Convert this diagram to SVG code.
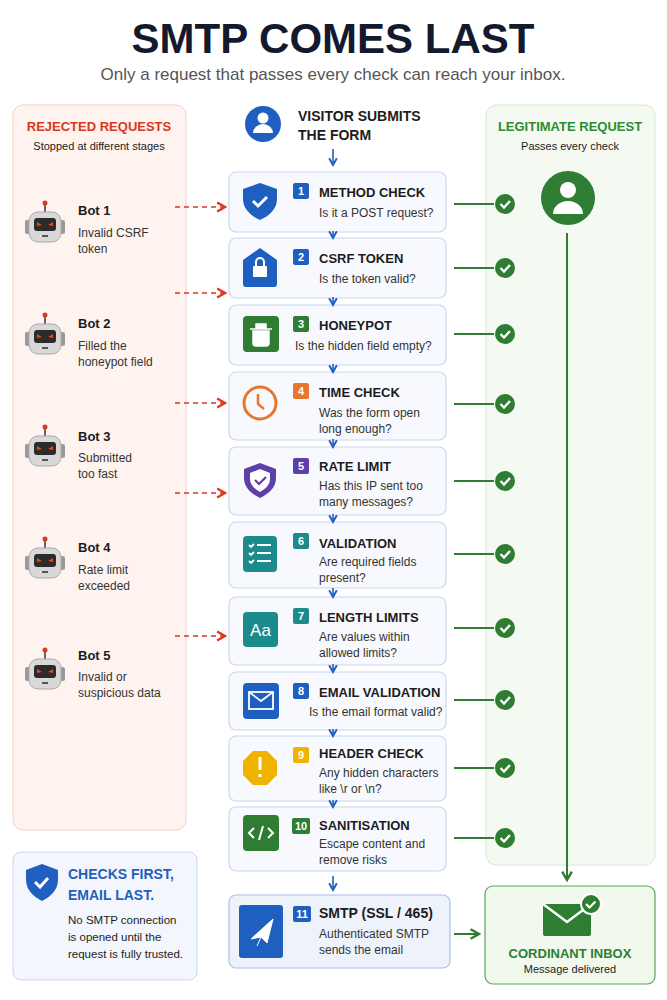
<svg xmlns="http://www.w3.org/2000/svg" width="667" height="1000" viewBox="0 0 667 1000">
<defs>
<style>
text{font-family:"Liberation Sans",Arial,sans-serif;fill:#1c1c1c}
.t{font-size:13px;font-weight:bold}
.s{font-size:12px;fill:#333}
.bl{font-size:12px;fill:#333}
.bt{font-size:13px;font-weight:bold}
.box{fill:#f7f9fe;stroke:#c7d7f0;stroke-width:1.2}
.bn{font-size:11px;font-weight:bold;fill:#fff;text-anchor:middle}
.red{stroke:#d9381e;stroke-width:1.6;stroke-dasharray:5 4;fill:none}
.grn{stroke:#2e7d32;stroke-width:2;fill:none}
.blu{stroke:#1f5fbf;stroke-width:1.6;fill:none}
</style>
<marker id="ar" viewBox="0 0 10 10" refX="8" refY="5" markerWidth="7" markerHeight="7" orient="auto"><path d="M1,1 L8,5 L1,9" fill="none" stroke="#d9381e" stroke-width="2"/></marker>
<marker id="ab" viewBox="0 0 10 10" refX="8" refY="5" markerWidth="6" markerHeight="6" orient="auto"><path d="M1,1 L8,5 L1,9" fill="none" stroke="#1f5fbf" stroke-width="2"/></marker>
<marker id="ag" viewBox="0 0 10 10" refX="8" refY="5" markerWidth="6" markerHeight="6" orient="auto"><path d="M1,1 L8,5 L1,9" fill="none" stroke="#2e7d32" stroke-width="2"/></marker>
<g id="robot">
<line x1="0" y1="-22" x2="0" y2="-14" stroke="#666" stroke-width="2"/><circle cx="0" cy="-23" r="2.5" fill="#d9381e"/>
<rect x="-20" y="-6" width="5" height="14" rx="2" fill="#999"/><rect x="15" y="-6" width="5" height="14" rx="2" fill="#999"/>
<rect x="-16" y="-14" width="32" height="30" rx="9" fill="#d8d8d8" stroke="#aaa"/>
<rect x="-11" y="-8" width="22" height="13" rx="3" fill="#2b2b2b"/>
<path d="M-8,-4 L-3,-1 L-8,0Z M8,-4 L3,-1 L8,0Z" fill="#e8452a"/>
<rect x="-3" y="9" width="6" height="2" fill="#555"/>
</g>
<g id="chk"><circle r="10" fill="#2e7d32"/><path d="M-4.5,0 L-1,3.5 L5,-3" stroke="#fff" stroke-width="2.4" fill="none"/></g>
</defs>
<rect width="667" height="1000" fill="#fff"/>
<text x="333" y="53" text-anchor="middle" style="font-size:42px;font-weight:bold;fill:#141a2e">SMTP COMES LAST</text>
<text x="333" y="80" text-anchor="middle" style="font-size:17px;fill:#555">Only a request that passes every check can reach your inbox.</text>

<g id="rejected">
<rect x="13" y="105" width="173" height="725" rx="10" fill="#fff3f0" stroke="#f6cfc5"/>
<text x="99" y="131" text-anchor="middle" style="font-size:13px;font-weight:bold;fill:#d9381e">REJECTED REQUESTS</text>
<text x="99" y="150" text-anchor="middle" style="font-size:11px">Stopped at different stages</text>
</g>
<g id="bot1"><use href="#robot" x="45" y="226"/><text x="78" y="215" class="bt">Bot 1</text><text x="78" y="237" class="bl">Invalid CSRF</text><text x="78" y="253" class="bl">token</text></g>
<g id="bot2"><use href="#robot" x="45" y="338"/><text x="78" y="328" class="bt">Bot 2</text><text x="78" y="350" class="bl">Filled the</text><text x="78" y="366" class="bl">honeypot field</text></g>
<g id="bot3"><use href="#robot" x="45" y="450"/><text x="78" y="441" class="bt">Bot 3</text><text x="78" y="462" class="bl">Submitted</text><text x="78" y="478" class="bl">too fast</text></g>
<g id="bot4"><use href="#robot" x="45" y="562"/><text x="78" y="552" class="bt">Bot 4</text><text x="78" y="574" class="bl">Rate limit</text><text x="78" y="590" class="bl">exceeded</text></g>
<g id="bot5"><use href="#robot" x="45" y="673"/><text x="78" y="660" class="bt">Bot 5</text><text x="78" y="681" class="bl">Invalid or</text><text x="78" y="697" class="bl">suspicious data</text></g>

<g id="legit">
<rect x="486" y="105" width="169" height="760" rx="10" fill="#f4f9f2" stroke="#d7e8d0"/>
<text x="570" y="131" text-anchor="middle" style="font-size:13px;font-weight:bold;fill:#2e8b2e">LEGITIMATE REQUEST</text>
<text x="570" y="150" text-anchor="middle" style="font-size:11px">Passes every check</text>
<circle cx="568" cy="198" r="27" fill="#2e7d32"/>
<circle cx="568" cy="190" r="8" fill="#fff"/><path d="M553,214 a15,13 0 0 1 30,0Z" fill="#fff"/>
</g>

<g id="visitor">
<circle cx="263" cy="124" r="18" fill="#1f5fbf"/>
<circle cx="263" cy="118" r="5.5" fill="#fff"/><path d="M253,133 a10,9 0 0 1 20,0Z" fill="#fff"/>
<text x="298" y="121" style="font-size:14px;font-weight:bold">VISITOR SUBMITS</text>
<text x="298" y="140" style="font-size:14px;font-weight:bold">THE FORM</text>
</g>

<g id="n1"><rect class="box" x="229" y="172" width="217" height="60" rx="7"/>
<path d="M260,183 l17,6 v10 c0,10 -8,17 -17,21 c-9,-4 -17,-11 -17,-21 v-10z" fill="#1f5fbf"/><path d="M253,201 l5,5 l9,-9" stroke="#fff" stroke-width="3" fill="none"/>
<rect x="293" y="183" width="16" height="16" rx="2" fill="#1f5fbf"/><text x="301" y="195" class="bn">1</text>
<text x="319" y="197" class="t">METHOD CHECK</text><text x="319" y="217" class="s">Is it a POST request?</text></g>
<g id="n2"><rect class="box" x="229" y="238" width="217" height="60" rx="7"/>
<path d="M243,260 l17,-12 l17,12 v24 q0,3 -3,3 h-28 q-3,0 -3,-3z" fill="#1f5fbf"/><rect x="253" y="266" width="14" height="11" rx="1" fill="#fff"/><path d="M256,266 v-4 a4,4 0 0 1 8,0 v4" stroke="#fff" stroke-width="2" fill="none"/>
<rect x="293" y="249" width="16" height="16" rx="2" fill="#1f5fbf"/><text x="301" y="261" class="bn">2</text>
<text x="319" y="263" class="t">CSRF TOKEN</text><text x="319" y="283" class="s">Is the token valid?</text></g>
<g id="n3"><rect class="box" x="229" y="305" width="217" height="60" rx="7"/>
<rect x="243" y="316" width="36" height="36" rx="4" fill="#2e7d32"/><path d="M250,329 h22 M253,331 h16 v12 q0,3 -3,3 h-10 q-3,0 -3,-3z M256,324 h10 v4 h-10z" fill="#fff" stroke="#fff" stroke-width="1.5"/>
<rect x="293" y="316" width="16" height="16" rx="2" fill="#2e7d32"/><text x="301" y="328" class="bn">3</text>
<text x="319" y="330" class="t">HONEYPOT</text><text x="295" y="350" class="s">Is the hidden field empty?</text></g>
<g id="n4"><rect class="box" x="229" y="372" width="217" height="68" rx="7"/>
<circle cx="260" cy="403" r="16" fill="none" stroke="#e8772e" stroke-width="3"/><path d="M258,394 v10 l6,5" stroke="#e8772e" stroke-width="2.5" fill="none"/>
<rect x="293" y="383" width="16" height="16" rx="2" fill="#e8772e"/><text x="301" y="395" class="bn">4</text>
<text x="319" y="397" class="t">TIME CHECK</text><text x="319" y="417" class="s">Was the form open</text><text x="319" y="433" class="s">long enough?</text></g>
<g id="n5"><rect class="box" x="229" y="447" width="217" height="68" rx="7"/>
<path d="M260,463 l16,6 v9 c0,10 -8,16 -16,20 c-8,-4 -16,-10 -16,-20 v-9z" fill="#5e3fa8"/><path d="M260,469 l10,4 v6 c0,6 -5,10 -10,13 c-5,-3 -10,-7 -10,-13 v-6z" fill="#fff"/><path d="M255,480 l4,4 l7,-7" stroke="#5e3fa8" stroke-width="2.2" fill="none"/>
<rect x="293" y="458" width="16" height="16" rx="2" fill="#5e3fa8"/><text x="301" y="470" class="bn">5</text>
<text x="319" y="471" class="t">RATE LIMIT</text><text x="319" y="490" class="s">Has this IP sent too</text><text x="319" y="506" class="s">many messages?</text></g>
<g id="n6"><rect class="box" x="229" y="522" width="217" height="66" rx="7"/>
<rect x="243" y="536" width="34" height="36" rx="4" fill="#1a8a8a"/><path d="M249,545 l2,2 l3,-3 M257,545 h14 M249,553 l2,2 l3,-3 M257,553 h14 M249,561 l2,2 l3,-3 M257,561 h14" stroke="#fff" stroke-width="1.8" fill="none"/>
<rect x="293" y="533" width="16" height="16" rx="2" fill="#1a8a8a"/><text x="301" y="545" class="bn">6</text>
<text x="319" y="548" class="t">VALIDATION</text><text x="319" y="566" class="s">Are required fields</text><text x="319" y="582" class="s">present?</text></g>
<g id="n7"><rect class="box" x="229" y="597" width="217" height="68" rx="7"/>
<rect x="243" y="612" width="35" height="35" rx="4" fill="#1a8a8a"/><text x="260.5" y="636" text-anchor="middle" style="font-size:17px;fill:#fff">Aa</text>
<rect x="293" y="608" width="16" height="16" rx="2" fill="#1a8a8a"/><text x="301" y="620" class="bn">7</text>
<text x="319" y="622" class="t">LENGTH LIMITS</text><text x="319" y="641" class="s">Are values within</text><text x="319" y="657" class="s">allowed limits?</text></g>
<g id="n8"><rect class="box" x="229" y="672" width="217" height="58" rx="7"/>
<rect x="243" y="683" width="36" height="36" rx="4" fill="#1f5fbf"/><rect x="249" y="692" width="24" height="17" fill="none" stroke="#fff" stroke-width="1.8"/><path d="M249,692 l12,9 l12,-9" stroke="#fff" stroke-width="1.8" fill="none"/>
<rect x="293" y="683" width="16" height="16" rx="2" fill="#1f5fbf"/><text x="301" y="695" class="bn">8</text>
<text x="319" y="697" class="t">EMAIL VALIDATION</text><text x="309" y="716" class="s">Is the email format valid?</text></g>
<g id="n9"><rect class="box" x="229" y="736" width="217" height="65" rx="7"/>
<path d="M253,751 h14 l10,10 v14 l-10,10 h-14 l-10,-10 v-14z" fill="#f0b400"/><rect x="258.5" y="757" width="3" height="13" fill="#fff"/><rect x="258.5" y="774" width="3" height="3" fill="#fff"/>
<rect x="293" y="747" width="16" height="16" rx="2" fill="#f0b400"/><text x="301" y="759" class="bn">9</text>
<text x="319" y="758" class="t">HEADER CHECK</text><text x="319" y="777" class="s">Any hidden characters</text><text x="319" y="793" class="s">like \r or \n?</text></g>
<g id="n10"><rect class="box" x="229" y="807" width="217" height="64" rx="7"/>
<rect x="243" y="815" width="36" height="36" rx="4" fill="#2e7d32"/><path d="M254,828 l-5,5 l5,5 M268,828 l5,5 l-5,5 M263,826 l-4,14" stroke="#fff" stroke-width="2" fill="none"/>
<rect x="292" y="818" width="18" height="16" rx="2" fill="#2e7d32"/><text x="301" y="830" class="bn">10</text>
<text x="319" y="830" class="t">SANITISATION</text><text x="319" y="848" class="s">Escape content and</text><text x="319" y="864" class="s">remove risks</text></g>
<g id="n11"><rect x="229" y="895" width="221" height="73" rx="7" fill="#eef3fb" stroke="#a9c2e8" stroke-width="1.2"/>
<rect x="239" y="905" width="44" height="53" rx="3" fill="#1f5fbf"/><path d="M251,939 l22,-20 l-6,24 l-6,-6z M261,937 l-4,9" fill="#fff" stroke="#fff" stroke-width="1"/>
<rect x="293" y="906" width="18" height="16" rx="2" fill="#1f5fbf"/><text x="302" y="918" class="bn">11</text>
<text x="319" y="918" class="t" style="font-size:14px">SMTP (SSL / 465)</text><text x="319" y="938" class="s">Authenticated SMTP</text><text x="319" y="954" class="s">sends the email</text></g>

<g id="inbox">
<rect x="485" y="886" width="170" height="98" rx="8" fill="#f1f8ee" stroke="#5aa55a" stroke-width="1.2"/>
<rect x="543" y="904" width="48" height="32" rx="2" fill="#2e7d32"/><path d="M543,904 l24,18 l24,-18" stroke="#fff" stroke-width="2.5" fill="none"/>
<circle cx="591" cy="904" r="10" fill="#2e7d32" stroke="#fff" stroke-width="2"/><path d="M586,904 l3.5,3.5 l6,-6" stroke="#fff" stroke-width="2.2" fill="none"/>
<text x="570" y="958" text-anchor="middle" style="font-size:13px;font-weight:bold;fill:#2e7d32">CORDINANT INBOX</text>
<text x="570" y="973" text-anchor="middle" style="font-size:11px">Message delivered</text>
</g>

<g id="note">
<rect x="13" y="852" width="184" height="128" rx="8" fill="#f3f6fc" stroke="#c9d8ef"/>
<path d="M42,864 l16,6 v10 c0,10 -8,17 -16,21 c-8,-4 -16,-11 -16,-21 v-10z" fill="#1f5fbf"/><path d="M35,882 l5,5 l8,-9" stroke="#fff" stroke-width="3" fill="none"/>
<text x="68" y="879" style="font-size:14px;font-weight:bold;fill:#1f5fbf">CHECKS FIRST,</text>
<text x="68" y="900" style="font-size:14px;font-weight:bold;fill:#1f5fbf">EMAIL LAST.</text>
<text x="68" y="924" style="font-size:11.5px">No SMTP connection</text>
<text x="68" y="941" style="font-size:11.5px">is opened until the</text>
<text x="68" y="958" style="font-size:11.5px">request is fully trusted.</text>
</g>

<g id="connectors">
<line class="red" x1="175" y1="207" x2="225" y2="207" marker-end="url(#ar)"/>
<line class="red" x1="175" y1="293" x2="225" y2="293" marker-end="url(#ar)"/>
<line class="red" x1="175" y1="403" x2="225" y2="403" marker-end="url(#ar)"/>
<line class="red" x1="175" y1="493" x2="225" y2="493" marker-end="url(#ar)"/>
<line class="red" x1="175" y1="636" x2="225" y2="636" marker-end="url(#ar)"/>
<line class="blu" x1="333" y1="149" x2="333" y2="165" marker-end="url(#ab)"/>
<line class="blu" x1="333" y1="231" x2="333" y2="238" marker-end="url(#ab)"/>
<line class="blu" x1="333" y1="297" x2="333" y2="305" marker-end="url(#ab)"/>
<line class="blu" x1="333" y1="364" x2="333" y2="372" marker-end="url(#ab)"/>
<line class="blu" x1="333" y1="439" x2="333" y2="447" marker-end="url(#ab)"/>
<line class="blu" x1="333" y1="514" x2="333" y2="522" marker-end="url(#ab)"/>
<line class="blu" x1="333" y1="588" x2="333" y2="597" marker-end="url(#ab)"/>
<line class="blu" x1="333" y1="664" x2="333" y2="672" marker-end="url(#ab)"/>
<line class="blu" x1="333" y1="729" x2="333" y2="736" marker-end="url(#ab)"/>
<line class="blu" x1="333" y1="800" x2="333" y2="807" marker-end="url(#ab)"/>
<line class="blu" x1="333" y1="876" x2="333" y2="890" marker-end="url(#ab)"/>
<line class="grn" x1="454" y1="204" x2="494" y2="204"/><use href="#chk" x="505" y="204"/>
<line class="grn" x1="454" y1="268" x2="494" y2="268"/><use href="#chk" x="505" y="268"/>
<line class="grn" x1="454" y1="334" x2="494" y2="334"/><use href="#chk" x="505" y="334"/>
<line class="grn" x1="454" y1="404" x2="494" y2="404"/><use href="#chk" x="505" y="404"/>
<line class="grn" x1="454" y1="481" x2="494" y2="481"/><use href="#chk" x="505" y="481"/>
<line class="grn" x1="454" y1="554" x2="494" y2="554"/><use href="#chk" x="505" y="554"/>
<line class="grn" x1="454" y1="628" x2="494" y2="628"/><use href="#chk" x="505" y="628"/>
<line class="grn" x1="454" y1="700" x2="494" y2="700"/><use href="#chk" x="505" y="700"/>
<line class="grn" x1="454" y1="768" x2="494" y2="768"/><use href="#chk" x="505" y="768"/>
<line class="grn" x1="454" y1="838" x2="494" y2="838"/><use href="#chk" x="505" y="838"/>
<line class="grn" x1="567" y1="233" x2="567" y2="880" marker-end="url(#ag)"/>
<line class="grn" x1="454" y1="934" x2="479" y2="934" stroke-width="2.5" marker-end="url(#ag)"/>
</g>
</svg>
